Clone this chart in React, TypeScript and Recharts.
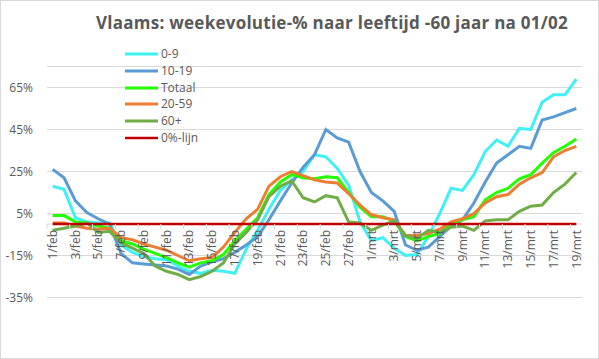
import React from 'react'
import {
  LineChart,
  Line,
  XAxis,
  YAxis,
  CartesianGrid,
  Legend,
  ReferenceLine,
} from 'recharts'

const dates = [
  '1/feb', '2/feb', '3/feb', '4/feb', '5/feb', '6/feb', '7/feb', '8/feb', '9/feb', '10/feb',
  '11/feb', '12/feb', '13/feb', '14/feb', '15/feb', '16/feb', '17/feb', '18/feb', '19/feb', '20/feb',
  '21/feb', '22/feb', '23/feb', '24/feb', '25/feb', '26/feb', '27/feb', '28/feb',
  '1/mrt', '2/mrt', '3/mrt', '4/mrt', '5/mrt', '6/mrt', '7/mrt', '8/mrt', '9/mrt', '10/mrt',
  '11/mrt', '12/mrt', '13/mrt', '14/mrt', '15/mrt', '16/mrt', '17/mrt', '18/mrt', '19/mrt',
]

const age0_9 = [
  18, 16.5, 3, 1, 0.5, 0.5, -10, -13.5, -15.5, -16.5,
  -17, -20, -22.5, -23.5, -22, -22.5, -23.5, -12, -3, 7,
  16, 21, 25, 33, 32, 26.5, 18.5, 1,
  -8, -6.5, -11.5, -15, -14.5, -6, 5, 17, 16, 23.5,
  34.5, 40, 37, 45.5, 45, 58, 61.5, 61.5, 69,
]

const age10_19 = [
  26, 22, 11, 5.5, 2.5, 0, -14, -18.5, -19, -19.5,
  -20, -21.5, -24, -20, -18, -16.5, -13.5, -10, -6, 2,
  11, 19.5, 27, 33, 45, 41, 39, 25,
  15, 11, 6, -10, -12.5, -11, -6, -1, 2, 10,
  20, 29, 33, 37, 36, 49.5, 51, 53, 55,
]

const totaal = [
  4, 4, 1, 0.5, -1, -2, -8, -9.5, -12, -14,
  -16, -18.5, -20.5, -18.5, -17.5, -14.5, -8, -2.5, 3, 14,
  20, 23.5, 22, 21.5, 22.5, 22, 15, 8,
  3.5, 3.5, 1.5, -6, -8, -6, -4.5, 0, 2, 3.5,
  11.5, 15, 17, 21.5, 23.5, 29, 34, 37, 40.5,
]

const age20_59 = [
  0.5, 0.5, -1, -2, -2.5, -2, -6.5, -7.5, -9.5, -11,
  -12.5, -15, -17.5, -16.5, -16, -11, -4, 2.5, 7, 18,
  22.5, 25, 23, 21, 20, 19.5, 14.5, 9,
  4.5, 3, 2, -5.5, -5.5, -4.5, -2.5, 1, 2.5, 5,
  10, 13, 14, 19, 22, 24.5, 32, 35, 37,
]

const age60plus = [
  -3, -2, -1, 0.5, -4, -3.5, -9, -11.5, -14, -20,
  -22.5, -24, -26.5, -25, -22.5, -18.5, -9.5, -4, 2, 13,
  18, 20.5, 12.5, 10.5, 13.5, 12.5, 1, 0.5,
  -3, -0.5, 1.5, -5.5, -7, -3, -4, -1.5, -1, -3,
  1.5, 2, 2, 6, 8.5, 9, 15, 19, 24.5,
]

const zeroLine = [
  0, 0, 0, 0, 0, 0, 0, 0, 0, 0,
  0, 0, 0, 0, 0, 0, 0, 0, 0, 0,
  0, 0, 0, 0, 0, 0, 0, 0,
  0, 0, 0, 0, 0, 0, 0, 0, 0, 0,
  0, 0, 0, 0, 0, 0, 0, 0, 0,
]

const seriesNames = ['0-9', '10-19', 'Totaal', '20-59', '60+', '0%-lijn']
const yTicks = [-35, -15, 5, 25, 45, 65]
const yDomain = [-35, 75]

const data = dates.map((date, i) => ({
  date,
  a0: age0_9[i],
  a10: age10_19[i],
  tot: totaal[i],
  a20: age20_59[i],
  a60: age60plus[i],
  zero: zeroLine[i],
}))

const W = 599
const H = 359
const margin = { top: 66.5, right: 17, bottom: 31.5, left: 7 }
const yAxisW = 40
const xAxisH = 30
const plotW = W - margin.left - margin.right - yAxisW
const plotH = H - margin.top - margin.bottom - xAxisH
const band = plotW / dates.length
const zeroY = margin.top + ((yDomain[1] - 0) / (yDomain[1] - yDomain[0])) * plotH

const font = '"Open Sans", sans-serif'
const grey = '#595959'

const DateTick = (props: any) => {
  const { x, payload } = props
  return (
    <g>
      <line x1={x - band / 2} x2={x - band / 2} y1={zeroY} y2={zeroY + 5} stroke="#d9d9d9" />
      <text
        transform={`translate(${x},${zeroY + 6}) rotate(-90)`}
        textAnchor="end"
        dy="0.35em"
        fontSize={12}
        fontFamily={font}
        fill={grey}
      >
        {payload.value}
      </text>
    </g>
  )
}

const LegendBox = (props: any) => {
  const items = [...(props.payload || [])].sort(
    (a: any, b: any) => seriesNames.indexOf(a.value) - seriesNames.indexOf(b.value)
  )
  return (
    <div style={{ fontFamily: font, fontSize: 12, color: grey }}>
      {items.map((e: any) => (
        <div key={e.value} style={{ display: 'flex', alignItems: 'center', height: 16.8 }}>
          <svg width={33} height={4}>
            <line x1={0} x2={33} y1={2} y2={2} stroke={e.color} strokeWidth={e.value === '0%-lijn' ? 2.5 : 3} />
          </svg>
          <span style={{ marginLeft: 3, lineHeight: '16px' }}>{e.value}</span>
        </div>
      ))}
    </div>
  )
}

const App = () => {
  return (
    <div
      style={{
        position: 'absolute',
        left: 0,
        top: 0,
        width: W,
        height: H,
        background: '#fff',
      }}
    >
      <div
        style={{
          position: 'absolute',
          left: 0,
          top: 0,
          width: W,
          height: H,
          boxSizing: 'border-box',
          border: '1px solid #d9d9d9',
        }}
      />
      <div
        style={{
          position: 'absolute',
          left: 332,
          top: 12.4,
          transform: 'translateX(-50%)',
          whiteSpace: 'nowrap',
          fontFamily: font,
          fontWeight: 'bold',
          fontSize: 17,
          letterSpacing: 0.25,
          color: grey,
          lineHeight: '22px',
        }}
      >
        Vlaams: weekevolutie-% naar leeftijd -60 jaar na 01/02
      </div>
      <LineChart width={W} height={H} data={data} margin={margin}>
        <CartesianGrid vertical={false} stroke="#d9d9d9" />
        <XAxis
          dataKey="date"
          interval={1}
          height={xAxisH}
          padding={{ left: band / 2, right: band / 2 }}
          axisLine={false}
          tickLine={false}
          tick={<DateTick />}
        />
        <YAxis
          width={yAxisW}
          domain={yDomain}
          ticks={yTicks}
          allowDataOverflow
          axisLine={false}
          tickLine={false}
          tickMargin={8}
          tickFormatter={(v: number) => `${v}%`}
          tick={{ fontSize: 12, fontFamily: font, fill: grey }}
        />
        <ReferenceLine y={0} stroke="#d9d9d9" />
        <Legend
          layout="vertical"
          align="center"
          verticalAlign="middle"
          content={<LegendBox />}
          wrapperStyle={{ left: 125, top: 45.6, width: 120, height: 102 }}
        />
        <Line type="linear" dataKey="a0" name="0-9" stroke="#3ff0f5" strokeWidth={3} dot={false} isAnimationActive={false} />
        <Line type="linear" dataKey="a10" name="10-19" stroke="#5b9bd5" strokeWidth={3} dot={false} isAnimationActive={false} />
        <Line type="linear" dataKey="tot" name="Totaal" stroke="#22ff00" strokeWidth={3} dot={false} isAnimationActive={false} />
        <Line type="linear" dataKey="a20" name="20-59" stroke="#ed7d31" strokeWidth={3} dot={false} isAnimationActive={false} />
        <Line type="linear" dataKey="a60" name="60+" stroke="#70ad47" strokeWidth={3} dot={false} isAnimationActive={false} />
        <Line type="linear" dataKey="zero" name="0%-lijn" stroke="#c00000" strokeWidth={2.5} dot={false} isAnimationActive={false} />
      </LineChart>
    </div>
  )
}

export default App
